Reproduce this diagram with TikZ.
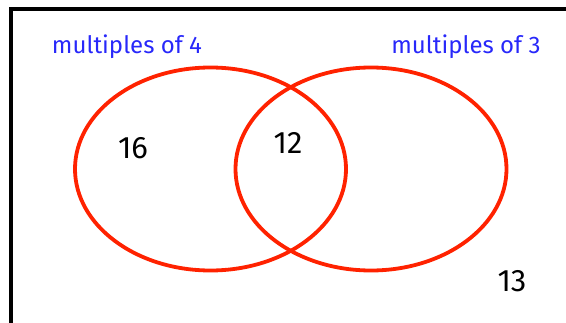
\documentclass[tikz,border=0pt]{standalone}
\usepackage{fontspec}
\setmainfont{Fira Sans}
\usetikzlibrary{positioning}
\definecolor{vennred}{RGB}{255,34,0}
\definecolor{labelblue}{RGB}{40,40,250}

\begin{document}
\begin{tikzpicture}[x=1pt,y=-1pt,
    set/.style={draw=vennred, line width=3.8pt},
    setlabel/.style={text=labelblue, anchor=base, inner sep=0pt,
      font=\fontsize{24}{28}\selectfont},
    count/.style={inner sep=0pt, font=\fontsize{31}{34}\selectfont}]
  % Definitions
  \pgfmathsetmacro{\rx}{135.5}
  \pgfmathsetmacro{\ry}{101.5}
  \useasboundingbox (0,0) rectangle (566,322);

  % frame
  \draw[line width=4pt] (11,330) -- (11,9) -- (570,9);

  % the two sets
  \draw[set] (210.5,169) ellipse [x radius=\rx pt, y radius=\ry pt];
  \draw[set] (371,169) ellipse [x radius=\rx pt, y radius=\ry pt];

  % set labels
  \node[setlabel] (fours) at (127,53) {multiples of 4};
  \node[setlabel] (threes) at (466,53) {multiples of 3};

  % members
  \node[count] (sixteen) at (133,148) {16};
  \node[count] (twelve) at (288,143) {12};
  \node[count] (thirteen) at (512,281) {13};
\end{tikzpicture}
\end{document}
